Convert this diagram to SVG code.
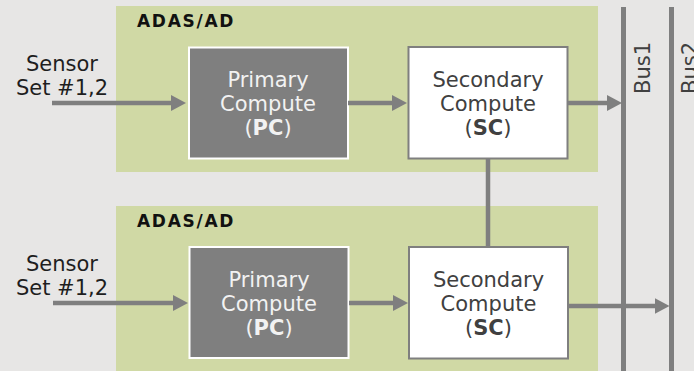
<svg xmlns="http://www.w3.org/2000/svg" width="694" height="371" viewBox="0 0 694 371">
  <style>
    .bg { fill: #e7e6e5; }
    .panel { fill: #d0d9a5; }
    .pc { fill: #7f7f7f; stroke: #ffffff; stroke-width: 2; }
    .sc { fill: #ffffff; stroke: #7f7f7f; stroke-width: 2; }
    .lbl { font-family: "DejaVu Sans", Verdana, sans-serif; font-size: 21px; text-anchor: middle; }
    .title { font-family: "DejaVu Sans", Verdana, sans-serif; font-size: 17px; font-weight: bold; fill: #111111; letter-spacing: 1.7px; }
    .dark { fill: #1e1e1e; }
    .light { fill: #f2f2f2; }
    .mid { fill: #404040; }
    .b { font-weight: bold; }
    .wire { stroke: #7f7f7f; stroke-width: 4.5; fill: none; }
    .bus { stroke: #7f7f7f; stroke-width: 5; fill: none; }
    .busText { font-family: "DejaVu Sans", Verdana, sans-serif; font-size: 21px; fill: #404040; }
  </style>
  <defs>
    <marker id="head" markerUnits="userSpaceOnUse" markerWidth="16" markerHeight="17" refX="1" refY="8" orient="auto">
      <path d="M0,0 L15,8 L0,16 Z" fill="#7f7f7f"/>
    </marker>
  </defs>

  <rect class="bg" x="0" y="0" width="694" height="371"/>

  <!-- upper ADAS/AD block -->
  <g id="adas-top">
    <rect class="panel" x="116" y="6" width="482" height="166"/>
    <text class="title" x="137" y="27">ADAS/AD</text>
  </g>
  <!-- lower ADAS/AD block -->
  <g id="adas-bottom">
    <rect class="panel" x="116" y="206" width="482" height="170"/>
    <text class="title" x="137" y="227">ADAS/AD</text>
  </g>

  <!-- buses -->
  <g id="bus1">
    <line class="bus" x1="623.5" y1="7" x2="623.5" y2="371"/>
    <text class="busText" transform="translate(650,94) rotate(-90)">Bus1</text>
  </g>
  <g id="bus2">
    <line class="bus" x1="671.5" y1="7" x2="671.5" y2="371"/>
    <text class="busText" transform="translate(697,94) rotate(-90)">Bus2</text>
  </g>

  <!-- sensor inputs -->
  <g id="sensor-top">
    <text class="lbl dark" x="62" y="71">Sensor</text>
    <text class="lbl dark" x="62" y="95">Set #1,2</text>
  </g>
  <g id="sensor-bottom">
    <text class="lbl dark" x="62" y="271">Sensor</text>
    <text class="lbl dark" x="62" y="295">Set #1,2</text>
  </g>

  <!-- compute units -->
  <g id="pc-top">
    <rect class="pc" x="189" y="47.5" width="159" height="111"/>
    <text class="lbl light" x="268" y="87">Primary</text>
    <text class="lbl light" x="268" y="110.5">Compute</text>
    <text class="lbl light" x="268" y="134.5">(<tspan class="b">PC</tspan>)</text>
  </g>
  <g id="sc-top">
    <rect class="sc" x="408.5" y="47" width="159" height="111.5"/>
    <text class="lbl mid" x="488" y="87">Secondary</text>
    <text class="lbl mid" x="488" y="110.5">Compute</text>
    <text class="lbl mid" x="488" y="134.5">(<tspan class="b">SC</tspan>)</text>
  </g>
  <g id="pc-bottom">
    <rect class="pc" x="189.5" y="247" width="159" height="111"/>
    <text class="lbl light" x="269" y="287">Primary</text>
    <text class="lbl light" x="269" y="310.5">Compute</text>
    <text class="lbl light" x="269" y="334.5">(<tspan class="b">PC</tspan>)</text>
  </g>
  <g id="sc-bottom">
    <rect class="sc" x="409" y="247" width="159" height="111.5"/>
    <text class="lbl mid" x="488.5" y="287">Secondary</text>
    <text class="lbl mid" x="488.5" y="310.5">Compute</text>
    <text class="lbl mid" x="488.5" y="334.5">(<tspan class="b">SC</tspan>)</text>
  </g>

  <!-- connectors -->
  <g id="connectors">
    <line class="wire" x1="52" y1="103" x2="172" y2="103" marker-end="url(#head)"/>
    <line class="wire" x1="348" y1="103" x2="393" y2="103" marker-end="url(#head)"/>
    <line class="wire" x1="568" y1="103" x2="608" y2="103" marker-end="url(#head)"/>
    <line class="wire" x1="53" y1="303" x2="174" y2="303" marker-end="url(#head)"/>
    <line class="wire" x1="349" y1="303" x2="394" y2="303" marker-end="url(#head)"/>
    <line class="wire" x1="569" y1="306" x2="655.5" y2="306" marker-end="url(#head)"/>
    <line class="wire" x1="488" y1="159" x2="488" y2="246"/>
  </g>
</svg>
